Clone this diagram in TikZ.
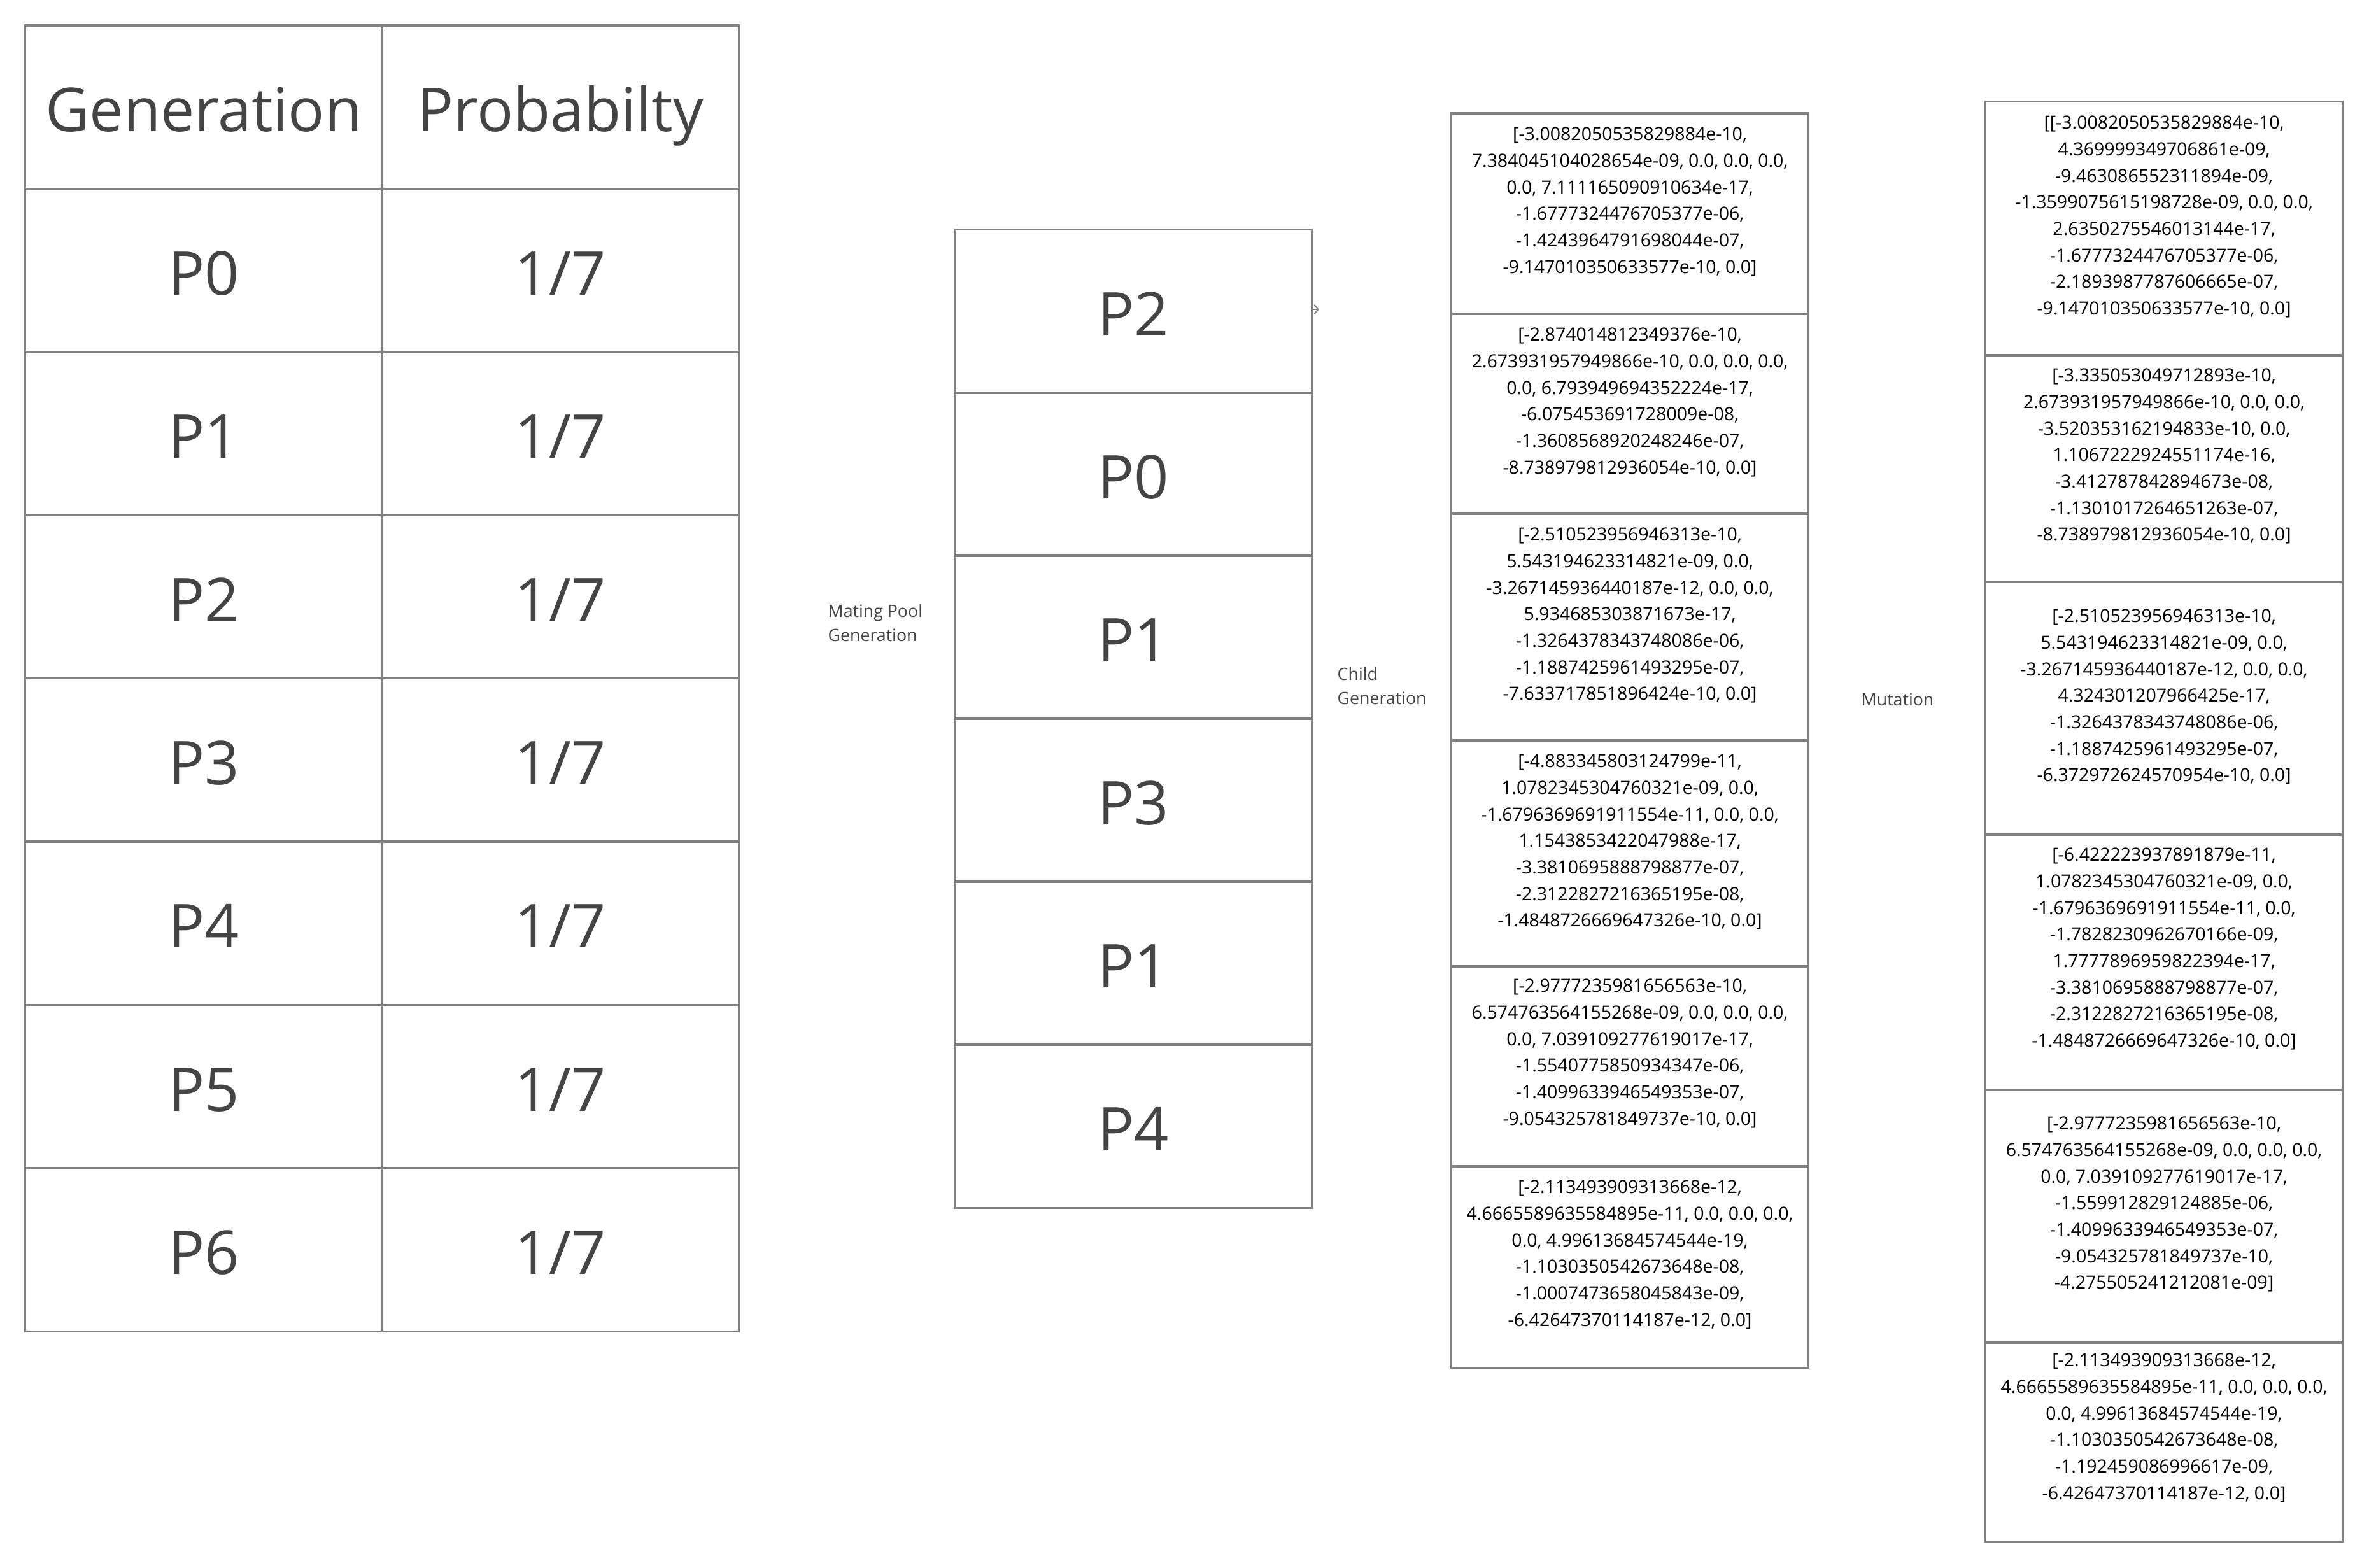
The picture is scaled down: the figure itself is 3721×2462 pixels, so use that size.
\documentclass[tikz,border=0pt]{standalone}
\usepackage{fontspec}
\setmainfont{Open Sans}
\usetikzlibrary{positioning,arrows.meta}
\definecolor{linegray}{HTML}{808080}
\definecolor{textgray}{HTML}{444444}

\begin{document}
\begin{tikzpicture}[x=0.01cm, y=-0.01cm,
    cell/.style={draw=linegray, line width=0.9pt, minimum width=5.6cm, inner sep=0pt,
        text height=22pt, text depth=0pt,
        font=\fontsize{27}{32}\selectfont, text=textgray},
    vals/.style={align=center, inner sep=0pt, font=\fontsize{8.1}{11.85}\selectfont},
    stage/.style={align=left, anchor=west, inner sep=0pt, text=textgray,
        font=\fontsize{7.6}{10.8}\selectfont}]
    \useasboundingbox (0,0) rectangle (3721,2462);

    % probability table
    \node[cell, minimum height=2.564cm] (hgen) at (320,168.2) {Generation};
    \node[cell, minimum height=2.564cm] (hprob) at (880,168.2) {Probabilty};
    \node[cell, minimum height=2.564cm] (g0) at (320,424.6) {P0};
    \node[cell, minimum height=2.564cm] (q0) at (880,424.6) {1/7};
    \node[cell, minimum height=2.564cm] (g1) at (320,681) {P1};
    \node[cell, minimum height=2.564cm] (q1) at (880,681) {1/7};
    \node[cell, minimum height=2.564cm] (g2) at (320,937.4) {P2};
    \node[cell, minimum height=2.564cm] (q2) at (880,937.4) {1/7};
    \node[cell, minimum height=2.564cm] (g3) at (320,1193.8) {P3};
    \node[cell, minimum height=2.564cm] (q3) at (880,1193.8) {1/7};
    \node[cell, minimum height=2.564cm] (g4) at (320,1450.2) {P4};
    \node[cell, minimum height=2.564cm] (q4) at (880,1450.2) {1/7};
    \node[cell, minimum height=2.564cm] (g5) at (320,1706.6) {P5};
    \node[cell, minimum height=2.564cm] (q5) at (880,1706.6) {1/7};
    \node[cell, minimum height=2.564cm] (g6) at (320,1963) {P6};
    \node[cell, minimum height=2.564cm] (q6) at (880,1963) {1/7};

    \node[stage] (lmating) at (1300,978) {Mating Pool\\Generation};

    % mating pool
    \node[cell, minimum height=2.561cm] (mp1) at (1780,489) {P2};
    \node[cell, minimum height=2.561cm] (mp2) at (1780,745) {P0};
    \node[cell, minimum height=2.561cm] (mp3) at (1780,1001) {P1};
    \node[cell, minimum height=2.561cm] (mp4) at (1780,1257) {P3};
    \node[cell, minimum height=2.561cm] (mp5) at (1780,1513) {P1};
    \node[cell, minimum height=2.561cm] (mp6) at (1780,1769) {P4};
    \coordinate (stub) at ([xshift=0.1cm, yshift=0.03cm]mp1.east);
    \draw[linegray, line width=0.6pt, -{Straight Barb[length=0.6mm, width=1.4mm]}] ([yshift=0.03cm]mp1.east) -- (stub);

    \node[stage] (lchild) at (2100,1077) {Child\\Generation};

    % children
    \node[cell, minimum height=3.15cm] (c1) at (2560,335.5) {};
    \node[cell, minimum height=3.14cm] (c2) at (2560,650) {};
    \node[cell, minimum height=3.56cm] (c3) at (2560,985) {};
    \node[cell, minimum height=3.55cm] (c4) at (2560,1340.5) {};
    \node[cell, minimum height=3.14cm] (c5) at (2560,1675) {};
    \node[cell, minimum height=3.16cm] (c6) at (2560,1990) {};
    \node[vals, below=0.23cm of c1.north] (c1v) {[-3.0082050535829884e-10,\\7.384045104028654e-09, 0.0, 0.0, 0.0,\\0.0, 7.111165090910634e-17,\\-1.6777324476705377e-06,\\-1.4243964791698044e-07,\\-9.147010350633577e-10, 0.0]};
    \node[vals, below=0.23cm of c2.north] (c2v) {[-2.874014812349376e-10,\\2.673931957949866e-10, 0.0, 0.0, 0.0,\\0.0, 6.793949694352224e-17,\\-6.075453691728009e-08,\\-1.3608568920248246e-07,\\-8.738979812936054e-10, 0.0]};
    \node[vals, below=0.23cm of c3.north] (c3v) {[-2.510523956946313e-10,\\5.543194623314821e-09, 0.0,\\-3.267145936440187e-12, 0.0, 0.0,\\5.934685303871673e-17,\\-1.3264378343748086e-06,\\-1.1887425961493295e-07,\\-7.633717851896424e-10, 0.0]};
    \node[vals, below=0.23cm of c4.north] (c4v) {[-4.883345803124799e-11,\\1.0782345304760321e-09, 0.0,\\-1.6796369691911554e-11, 0.0, 0.0,\\1.1543853422047988e-17,\\-3.3810695888798877e-07,\\-2.3122827216365195e-08,\\-1.4848726669647326e-10, 0.0]};
    \node[vals, below=0.21cm of c5.north] (c5v) {[-2.9777235981656563e-10,\\6.574763564155268e-09, 0.0, 0.0, 0.0,\\0.0, 7.039109277619017e-17,\\-1.5540775850934347e-06,\\-1.4099633946549353e-07,\\-9.054325781849737e-10, 0.0]};
    \node[vals, below=0.23cm of c6.north] (c6v) {[-2.113493909313668e-12,\\4.6665589635584895e-11, 0.0, 0.0, 0.0,\\0.0, 4.99613684574544e-19,\\-1.1030350542673648e-08,\\-1.0007473658045843e-09,\\-6.42647370114187e-12, 0.0]};

    \node[stage] (lmutation) at (2923,1099) {Mutation};

    % mutated children
    \node[cell, minimum height=3.98cm] (m1) at (3399,359) {};
    \node[cell, minimum height=3.56cm] (m2) at (3399,736) {};
    \node[cell, minimum height=3.97cm] (m3) at (3399,1112.5) {};
    \node[cell, minimum height=4.01cm] (m4) at (3399,1511.5) {};
    \node[cell, minimum height=3.97cm] (m5) at (3399,1910.5) {};
    \node[cell, minimum height=3.12cm] (m6) at (3399,2265) {};
    \node[vals, below=0.23cm of m1.north] (m1v) {[[-3.0082050535829884e-10,\\4.369999349706861e-09,\\-9.463086552311894e-09,\\-1.3599075615198728e-09, 0.0, 0.0,\\2.6350275546013144e-17,\\-1.6777324476705377e-06,\\-2.1893987787606665e-07,\\-9.147010350633577e-10, 0.0]};
    \node[vals, below=0.22cm of m2.north] (m2v) {[-3.335053049712893e-10,\\2.673931957949866e-10, 0.0, 0.0,\\-3.520353162194833e-10, 0.0,\\1.1067222924551174e-16,\\-3.412787842894673e-08,\\-1.1301017264651263e-07,\\-8.738979812936054e-10, 0.0]};
    \node[vals, below=0.44cm of m3.north] (m3v) {[-2.510523956946313e-10,\\5.543194623314821e-09, 0.0,\\-3.267145936440187e-12, 0.0, 0.0,\\4.324301207966425e-17,\\-1.3264378343748086e-06,\\-1.1887425961493295e-07,\\-6.372972624570954e-10, 0.0]};
    \node[vals, below=0.22cm of m4.north] (m4v) {[-6.422223937891879e-11,\\1.0782345304760321e-09, 0.0,\\-1.6796369691911554e-11, 0.0,\\-1.7828230962670166e-09,\\1.7777896959822394e-17,\\-3.3810695888798877e-07,\\-2.3122827216365195e-08,\\-1.4848726669647326e-10, 0.0]};
    \node[vals, below=0.43cm of m5.north] (m5v) {[-2.9777235981656563e-10,\\6.574763564155268e-09, 0.0, 0.0, 0.0,\\0.0, 7.039109277619017e-17,\\-1.559912829124885e-06,\\-1.4099633946549353e-07,\\-9.054325781849737e-10,\\-4.275505241212081e-09]};
    \node[vals, below=0.18cm of m6.north] (m6v) {[-2.113493909313668e-12,\\4.6665589635584895e-11, 0.0, 0.0, 0.0,\\0.0, 4.99613684574544e-19,\\-1.1030350542673648e-08,\\-1.192459086996617e-09,\\-6.42647370114187e-12, 0.0]};
\end{tikzpicture}
\end{document}
